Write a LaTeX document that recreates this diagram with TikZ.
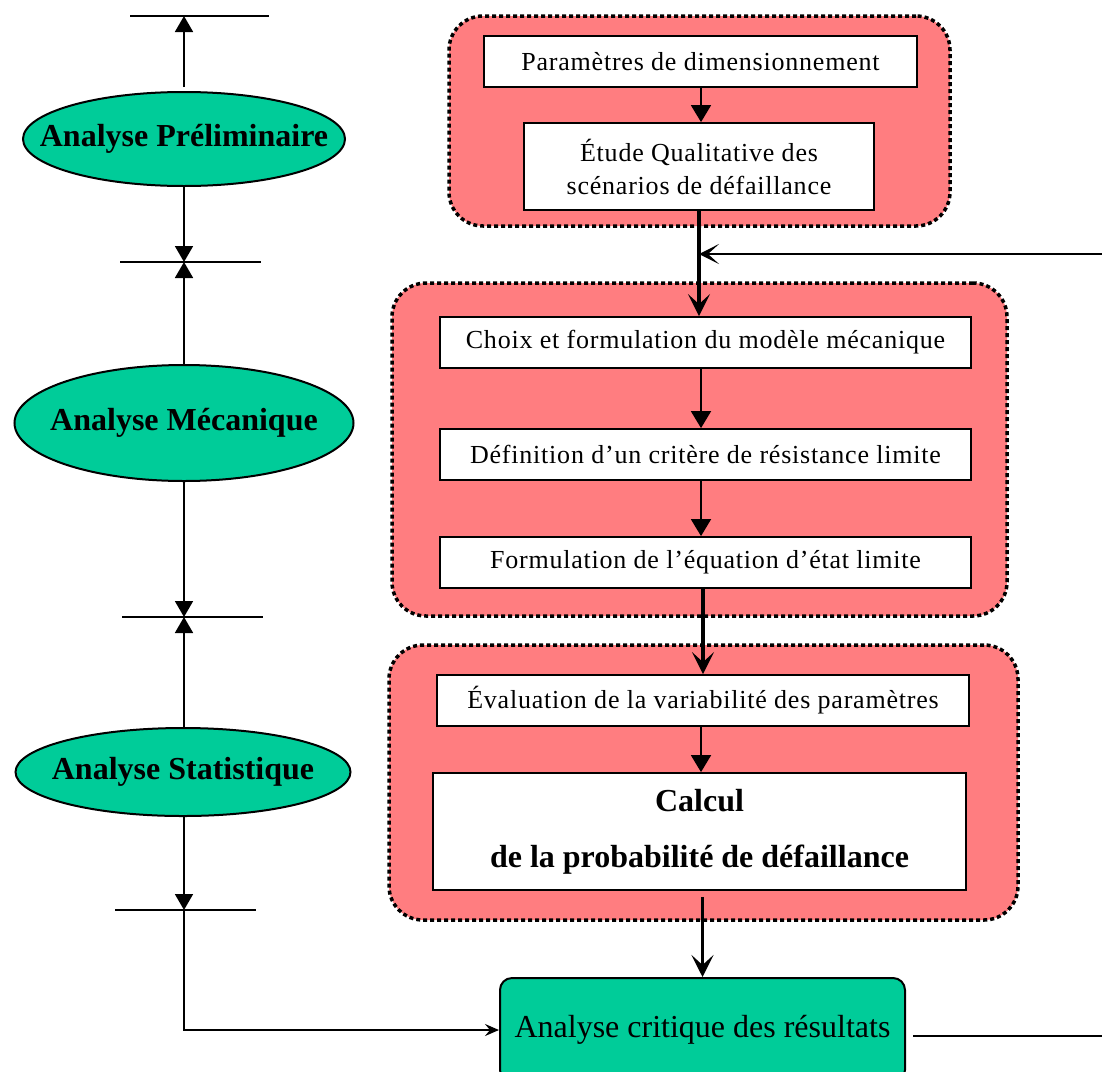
\documentclass[tikz,border=0pt]{standalone}
\usepackage{fontspec}
\setmainfont{Liberation Serif}
\newfontfamily\boxfont[LetterSpace=3]{Liberation Serif}
\usetikzlibrary{arrows.meta,shapes.geometric}
\definecolor{grpred}{RGB}{255,125,128}
\definecolor{tealgreen}{RGB}{0,204,153}
\begin{document}
\begin{tikzpicture}[x=1pt,y=-1pt,
  grp/.style={draw=black, fill=grpred, line width=3.5pt, dash pattern=on 4pt off 3pt, rounded corners=34pt, inner sep=0pt},
  box/.style={draw, fill=white, line width=1.8pt, inner sep=0pt, font=\boxfont\fontsize{26}{33}\selectfont, align=center},
  ell/.style={ellipse, draw, fill=tealgreen, line width=2pt, inner sep=0pt},
  elltext/.style={font=\bfseries\fontsize{32}{38}\selectfont, inner sep=0pt},
  tickline/.style={line width=1.8pt},
  axarr/.style={line width=1.8pt, -{Triangle[length=16pt,width=18pt]}},
  inarr/.style={line width=1.8pt, -{Triangle[length=17pt,width=20pt]}},
  thickarr/.style={line width=3.5pt, -{Stealth[length=22pt,width=22pt,inset=10pt]}},
  fbarr/.style={line width=1.8pt, -{Stealth[length=20pt,width=20pt,inset=11pt]}},
  plain/.style={line width=1.8pt}
]
\useasboundingbox (0,0) rectangle (1102,1071);

% ---------- left column ----------
\node[ell, minimum width=322pt, minimum height=94pt] (e1) at (184,139) {};
\node[elltext] (e1t) at (e1) {Analyse Préliminaire};
\node[ell, minimum width=339pt, minimum height=116pt] (e2) at (184,423) {};
\node[elltext] (e2t) at (e2) {Analyse Mécanique};
\node[ell, minimum width=335pt, minimum height=88pt] (e3) at (183,772) {};
\node[elltext] (e3t) at (e3) {Analyse Statistique};

\coordinate (t0) at (184,16);
\coordinate (t0L) at (130,16); \coordinate (t0R) at (269,16);
\coordinate (t1) at (184,262);
\coordinate (t1L) at (120,262); \coordinate (t1R) at (261,262);
\coordinate (t2) at (184,617);
\coordinate (t2L) at (122,617); \coordinate (t2R) at (263,617);
\coordinate (t3) at (184,910);
\coordinate (t3L) at (115,910); \coordinate (t3R) at (256,910);

\draw[tickline] (t0L) -- (t0R);
\draw[tickline] (t1L) -- (t1R);
\draw[tickline] (t2L) -- (t2R);
\draw[tickline] (t3L) -- (t3R);

\draw[axarr, shorten <=4pt] (e1.north) -- (t0);
\draw[axarr] (e1.south) -- (t1);
\draw[axarr] (e2.north) -- (t1);
\draw[axarr] (e2.south) -- (t2);
\draw[axarr] (e3.north -| t2) -- (t2);
\draw[axarr] (e3.south -| t3) -- (t3);

% ---------- right column ----------
\node[grp, minimum width=501pt, minimum height=210pt] (g1) at (699.5,121) {};
\node[grp, minimum width=615pt, minimum height=333pt] (g2) at (699.5,449.5) {};
\node[grp, minimum width=629pt, minimum height=275pt] (g3) at (703.5,782.5) {};

\node[box, minimum width=433pt, minimum height=51pt] (b1) at (700.5,61.5) {Paramètres de dimensionnement};
\node[box, minimum width=350pt, minimum height=87pt] (b2) at (699,166.5) {Étude Qualitative des\\scénarios de défaillance};
\node[box, minimum width=531pt, minimum height=51pt] (b3) at (705.5,342.5) {Choix et formulation du modèle mécanique};
\node[box, minimum width=531pt, minimum height=51pt] (b4) at (705.5,454.5) {Définition d’un critère de résistance limite};
\node[box, minimum width=531pt, minimum height=51pt] (b5) at (705.5,562.5) {Formulation de l’équation d’état limite};
\node[box, minimum width=532pt, minimum height=51pt] (b6) at (703,700.5) {Évaluation de la variabilité des paramètres};
\node[box, minimum width=533pt, minimum height=117pt, font=\bfseries\fontsize{32}{56}\selectfont] (b7) at (699.5,831.5) {Calcul\\de la probabilité de défaillance};

\node[draw, fill=tealgreen, line width=2pt, rounded corners=12pt, minimum width=405pt, minimum height=104pt, inner sep=0pt,
      font=\fontsize{32}{38}\selectfont] (bb) at (702.5,1030) {Analyse critique des résultats};

\coordinate (col) at (701,0);
\coordinate (fbin) at (1102,254);
\coordinate (fbout) at (1102,1036);

\draw[inarr] (b1.south -| col) -- (b2.north -| col);
\draw[thickarr] (b2.south) -- (b2.south |- b3.north);
\draw[fbarr] (fbin) -- (fbin -| b2.south);
\draw[inarr] (b3.south -| col) -- (b4.north -| col);
\draw[inarr] (b4.south -| col) -- (b5.north -| col);
\draw[thickarr] (b6.north |- b5.south) -- (b6.north);
\draw[inarr] (b6.south -| col) -- (b7.north -| col);
\draw[thickarr, shorten <=6pt] (bb.north |- b7.south) -- (bb.north);
\draw[plain, shorten <=7pt] (bb.east |- fbout) -- (fbout);
\draw[plain, -{Stealth[length=14pt,width=12pt,inset=5pt]}] (t3) |- (bb.west);
\end{tikzpicture}
\end{document}
